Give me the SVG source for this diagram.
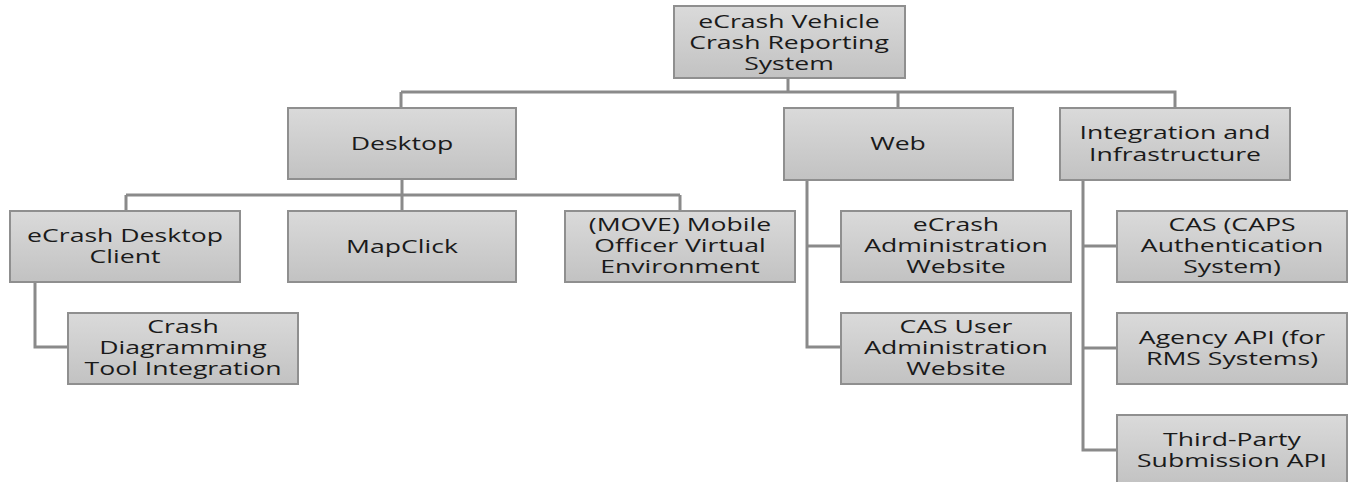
<svg xmlns="http://www.w3.org/2000/svg" width="1355" height="482" viewBox="0 0 1355 482">
<defs>
<linearGradient id="g" x1="0" y1="0" x2="0" y2="1">
<stop offset="0" stop-color="#dadada"/>
<stop offset="1" stop-color="#c2c2c2"/>
</linearGradient>
<style>
.box{fill:url(#g);stroke:#8f8f8f;stroke-width:2}
text{font-family:"Open Sans","DejaVu Sans",sans-serif;font-size:19px;fill:#1a1a1a;text-anchor:middle}
.c{fill:none;stroke:#8a8a8a;stroke-width:3}
</style>
</defs>
<rect width="1355" height="482" fill="#fff"/>
<g id="connectors">
<path class="c" d="M788 78V92M401 92H898M401 92V108M898 92V108M898 92H1175V108"/>
<path class="c" d="M402 178V195M126 195H680M126 195V211M402 195V211M680 195V211"/>
<path class="c" d="M35 282V347H68"/>
<path class="c" d="M807 180V347H841M807 246H841"/>
<path class="c" d="M1083 180V450H1117M1083 246H1117M1083 348H1117"/>
</g>
<g id="root"><rect class="box" x="674" y="6" width="231" height="72"/><text transform="translate(789 28) scale(1.4 1)">eCrash Vehicle</text><text transform="translate(789 49) scale(1.4 1)">Crash Reporting</text><text transform="translate(789 70) scale(1.4 1)">System</text></g>
<g id="desktop"><rect class="box" x="288" y="108" width="228" height="71"/><text transform="translate(402 150) scale(1.4 1)">Desktop</text></g>
<g id="web"><rect class="box" x="784" y="108" width="229" height="72"/><text transform="translate(898 150) scale(1.4 1)">Web</text></g>
<g id="integration"><rect class="box" x="1060" y="108" width="230" height="72"/><text transform="translate(1175 139) scale(1.4 1)">Integration and</text><text transform="translate(1175 161) scale(1.4 1)">Infrastructure</text></g>
<g id="desktop-client"><rect class="box" x="10" y="211" width="230" height="71"/><text transform="translate(125 242) scale(1.4 1)">eCrash Desktop</text><text transform="translate(125 263) scale(1.4 1)">Client</text></g>
<g id="mapclick"><rect class="box" x="288" y="211" width="228" height="71"/><text transform="translate(402 253) scale(1.4 1)">MapClick</text></g>
<g id="move"><rect class="box" x="565" y="211" width="230" height="71"/><text transform="translate(680 231) scale(1.4 1)">(MOVE) Mobile</text><text transform="translate(680 252) scale(1.4 1)">Officer Virtual</text><text transform="translate(680 273) scale(1.4 1)">Environment</text></g>
<g id="crash-diagramming"><rect class="box" x="68" y="313" width="230" height="71"/><text transform="translate(183 333) scale(1.4 1)">Crash</text><text transform="translate(183 354) scale(1.4 1)">Diagramming</text><text transform="translate(183 375) scale(1.4 1)">Tool Integration</text></g>
<g id="admin-website"><rect class="box" x="841" y="211" width="230" height="71"/><text transform="translate(956 231) scale(1.4 1)">eCrash</text><text transform="translate(956 252) scale(1.4 1)">Administration</text><text transform="translate(956 273) scale(1.4 1)">Website</text></g>
<g id="cas-user"><rect class="box" x="841" y="313" width="230" height="71"/><text transform="translate(956 333) scale(1.4 1)">CAS User</text><text transform="translate(956 354) scale(1.4 1)">Administration</text><text transform="translate(956 375) scale(1.4 1)">Website</text></g>
<g id="cas"><rect class="box" x="1117" y="211" width="230" height="71"/><text transform="translate(1232 231) scale(1.4 1)">CAS (CAPS</text><text transform="translate(1232 252) scale(1.4 1)">Authentication</text><text transform="translate(1232 273) scale(1.4 1)">System)</text></g>
<g id="agency-api"><rect class="box" x="1117" y="313" width="230" height="71"/><text transform="translate(1232 344) scale(1.4 1)">Agency API (for</text><text transform="translate(1232 365) scale(1.4 1)">RMS Systems)</text></g>
<g id="third-party"><rect class="box" x="1117" y="415" width="230" height="71"/><text transform="translate(1232 446) scale(1.4 1)">Third-Party</text><text transform="translate(1232 467) scale(1.4 1)">Submission API</text></g>
</svg>
